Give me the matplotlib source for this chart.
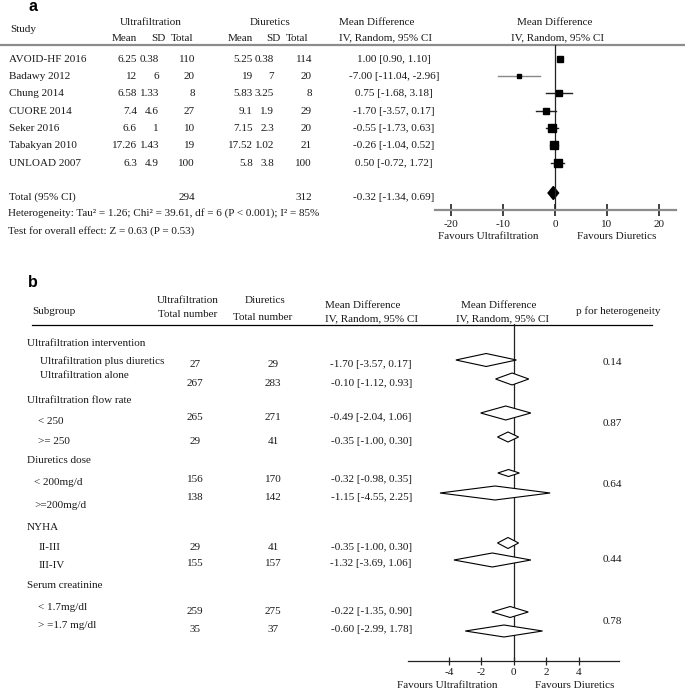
import numpy as np
import matplotlib
matplotlib.use('Agg')
from matplotlib import pyplot as plt
from matplotlib.patches import Polygon

plt.rcParams['font.family'] = ['Liberation Serif', 'DejaVu Serif']
plt.rcParams['font.size'] = 8.0
plt.rcParams['axes.unicode_minus'] = False

# panel a data
studies = ['AVOID-HF 2016', 'Badawy 2012', 'Chung 2014', 'CUORE 2014',
           'Seker 2016', 'Tabakyan 2010', 'UNLOAD 2007']
uf_mean = ['6.25', '12', '6.58', '7.4', '6.6', '17.26', '6.3']
uf_sd = ['0.38', '6', '1.33', '4.6', '1', '1.43', '4.9']
uf_n = [110, 20, 8, 27, 10, 19, 100]
di_mean = ['5.25', '19', '5.83', '9.1', '7.15', '17.52', '5.8']
di_sd = ['0.38', '7', '3.25', '1.9', '2.3', '1.02', '3.8']
di_n = [114, 20, 8, 29, 20, 21, 100]
md = [1.00, -7.00, 0.75, -1.70, -0.55, -0.26, 0.50]
md_lo = [0.90, -11.04, -1.68, -3.57, -1.73, -1.04, -0.72]
md_hi = [1.10, -2.96, 3.18, 0.17, 0.63, 0.52, 1.72]
tot_uf_n, tot_di_n = 294, 312
tot_md, tot_lo, tot_hi = -0.32, -1.34, 0.69
het_text = 'Heterogeneity: Tau\u00b2 = 1.26; Chi\u00b2 = 39.61, df = 6 (P < 0.001); I\u00b2 = 85%'
eff_text = 'Test for overall effect: Z = 0.63 (P = 0.53)'

# panel b data
groups = ['Ultrafiltration intervention', 'Ultrafiltration flow rate',
          'Diuretics dose', 'NYHA', 'Serum creatinine']
sub_labels = ['Ultrafiltration plus diuretics', 'Ultrafiltration alone',
              '< 250', '>= 250', '< 200mg/d', '>=200mg/d',
              'II-III', 'III-IV', '< 1.7mg/dl', '> =1.7 mg/dl']
sub_uf_n = [27, 267, 265, 29, 156, 138, 29, 155, 259, 35]
sub_di_n = [29, 283, 271, 41, 170, 142, 41, 157, 275, 37]
sub_md = [-1.70, -0.10, -0.49, -0.35, -0.32, -1.15, -0.35, -1.32, -0.22, -0.60]
sub_lo = [-3.57, -1.12, -2.04, -1.00, -0.98, -4.55, -1.00, -3.69, -1.35, -2.99]
sub_hi = [0.17, 0.93, 1.06, 0.30, 0.35, 2.25, 0.30, 1.06, 0.90, 1.78]
p_het = ['0.14', '0.87', '0.64', '0.44', '0.78']

W, H = 685, 691
fig = plt.figure(figsize=(W / 100, H / 100), dpi=100)
bg = fig.add_axes([0, 0, 1, 1])
bg.set_xlim(0, W)
bg.set_ylim(H, 0)
bg.axis('off')
tc = '#1a1a1a'

def txt(x, y, s, ha='left', **kw):
    bg.text(x, y, s, ha=ha, va='center', color=tc, **kw)

def px_axes(x0, x1, y0, y1):
    # axes placed on a pixel box, y in pixels (top down)
    ax = fig.add_axes([x0 / W, 1 - y1 / H, (x1 - x0) / W, (y1 - y0) / H])
    ax.set_ylim(y1, y0)
    ax.patch.set_alpha(0)
    for s in ['top', 'right', 'left']:
        ax.spines[s].set_visible(False)
    ax.set_yticks([])
    return ax

# ---------------- panel a ----------------
bg.text(33, 6, 'a', ha='center', va='center', fontsize=11.5, fontweight='bold',
        family='Liberation Sans')
txt(10, 29, 'Study')
txt(151, 22, 'Ultrafiltration', ha='center')
txt(270, 22, 'Diuretics', ha='center')
txt(377, 22, 'Mean Difference', ha='center')
txt(555, 22, 'Mean Difference', ha='center')
for x, s in zip([124.5, 158, 182, 240.5, 273, 297], ['Mean', 'SD', 'Total'] * 2):
    txt(x, 38, s, ha='center')
txt(386, 38, 'IV, Random, 95% CI', ha='center')
txt(558, 38, 'IV, Random, 95% CI', ha='center')
bg.plot([0, W], [45, 45], color='#8c8c8c', lw=1.6)

row_y = [59, 76, 93, 111, 128, 145, 163]
for i, y in enumerate(row_y):
    txt(9, y, studies[i])
    txt(137, y, uf_mean[i], ha='right')
    txt(159, y, uf_sd[i], ha='right')
    txt(195, y, str(uf_n[i]), ha='right')
    txt(253, y, di_mean[i], ha='right')
    txt(274, y, di_sd[i], ha='right')
    txt(312, y, str(di_n[i]), ha='right')
    txt(394, y, f'{md[i]:.2f} [{md_lo[i]:.2f}, {md_hi[i]:.2f}]', ha='center')
txt(9, 197, 'Total (95% CI)')
txt(195, 197, str(tot_uf_n), ha='right')
txt(312, 197, str(tot_di_n), ha='right')
txt(394, 197, f'{tot_md:.2f} [{tot_lo:.2f}, {tot_hi:.2f}]', ha='center')
txt(8, 213, het_text)
txt(8, 231, eff_text)

axa = px_axes(435, 676, 45, 210)
axa.set_xlim((435 - 555) / 5.2, (676 - 555) / 5.2)
axa.spines['bottom'].set_color('#8c8c8c')
axa.spines['bottom'].set_linewidth(1.6)
axa.set_xticks([-20, -10, 0, 10, 20])
axa.tick_params(axis='x', direction='inout', length=9, width=1.2, color='#222222',
                labelsize=8.0, labelcolor=tc, pad=3)
axa.axvline(0, color='#222222', lw=0.9)
sq_size = [5, 3, 4, 5, 5.5, 6, 5.5]
ci_col = ['#222222', '#888888', '#222222', '#222222', '#222222', '#222222', '#222222']
for i, y in enumerate(row_y):
    axa.plot([md_lo[i], md_hi[i]], [y, y], color=ci_col[i], lw=1.0)
    axa.plot(md[i], y, marker='s', ms=sq_size[i], color='black', mec='black')
axa.add_patch(Polygon([[tot_lo, 193], [tot_md, 186.5], [tot_hi, 193], [tot_md, 199.5]],
                      closed=True, fc='black', ec='black'))
txt(488, 236, 'Favours Ultrafiltration', ha='center')
txt(617, 236, 'Favours Diuretics', ha='center')

# ---------------- panel b ----------------
bg.text(33, 282, 'b', ha='center', va='center', fontsize=11.5, fontweight='bold',
        family='Liberation Sans')
txt(32, 311, 'Subgroup')
txt(188, 300, 'Ultrafiltration', ha='center')
txt(188, 314, 'Total number', ha='center')
txt(265, 300, 'Diuretics', ha='center')
txt(263, 317, 'Total number', ha='center')
txt(363, 305, 'Mean Difference', ha='center')
txt(372, 319, 'IV, Random, 95% CI', ha='center')
txt(499, 305, 'Mean Difference', ha='center')
txt(503, 319, 'IV, Random, 95% CI', ha='center')
txt(618, 311, 'p for heterogeneity', ha='center')
bg.plot([32, 652], [324.5, 324.5], color='black', lw=0.9)

group_y = [343, 400, 460, 528, 586]
label_y = [361, 375, 421, 441, 482, 505, 547, 566, 607, 625]
num_y = [364, 383, 417, 441, 479, 497, 547, 563, 611, 629]
dia_y = [360, 379, 413, 437, 473, 493, 543, 560, 612, 631]
dia_h = [13, 12, 14, 10, 7, 14, 11, 14, 11, 12]
indent = [40, 40, 38, 38, 34, 34, 39, 39, 38, 38]
p_y = [362, 423, 484, 559, 622]

for g, y in zip(groups, group_y):
    txt(27, y, g)
for i in range(len(sub_labels)):
    txt(indent[i], label_y[i], sub_labels[i])
    txt(195, num_y[i], str(sub_uf_n[i]), ha='center')
    txt(273, num_y[i], str(sub_di_n[i]), ha='center')
    txt(412, num_y[i], f'{sub_md[i]:.2f} [{sub_lo[i]:.2f}, {sub_hi[i]:.2f}]', ha='right')
for p, y in zip(p_het, p_y):
    txt(612, y, p, ha='center')

axb = px_axes(408, 619, 324, 661)
axb.set_xlim((408 - 513.7) / 16.2, (619 - 513.7) / 16.2)
axb.spines['bottom'].set_color('#222222')
axb.spines['bottom'].set_linewidth(0.9)
axb.set_xticks([-4, -2, 0, 2, 4])
axb.tick_params(axis='x', direction='inout', length=6, width=0.9, color='#222222',
                labelsize=8.0, labelcolor=tc, pad=2)
axb.axvline(0, color='#222222', lw=0.9)
for i in range(len(sub_md)):
    y, h = dia_y[i], dia_h[i] / 2
    axb.add_patch(Polygon([[sub_lo[i], y], [sub_md[i], y - h], [sub_hi[i], y],
                           [sub_md[i], y + h]], closed=True, fc='white',
                          ec='black', lw=0.8, zorder=3))
txt(447, 686, 'Favours Ultrafiltration', ha='center')
txt(575, 686, 'Favours Diuretics', ha='center')

fig.savefig('out.png', dpi=100)
